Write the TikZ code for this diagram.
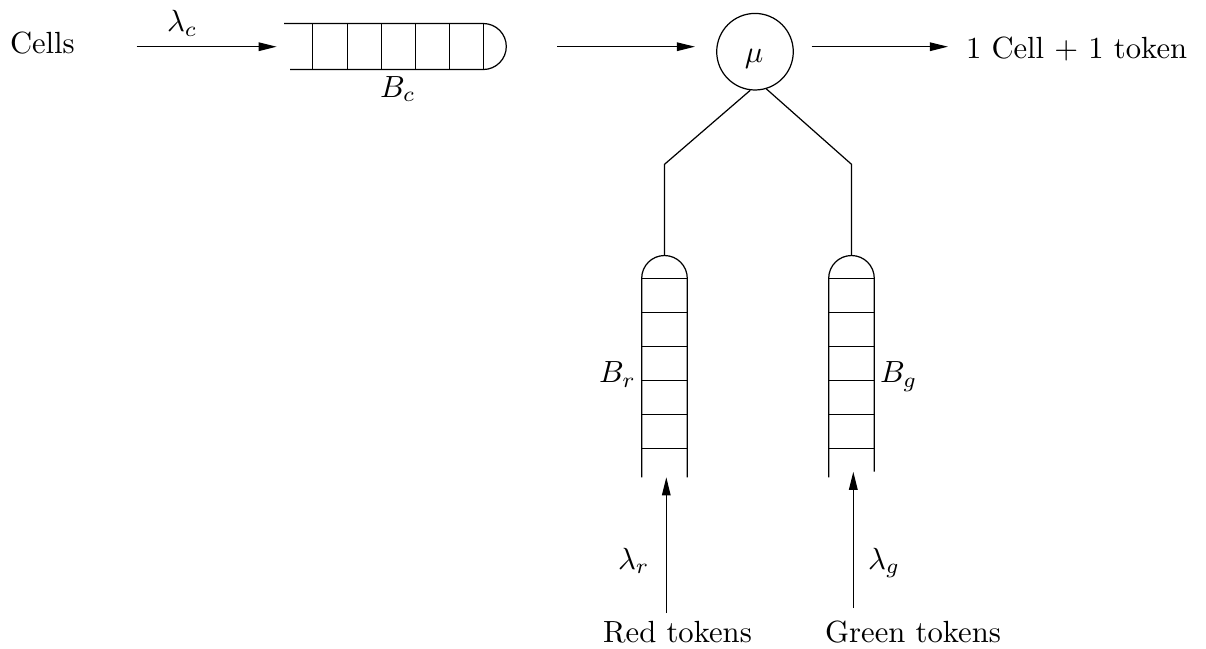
\documentclass[tikz,border=0pt]{standalone}
\usetikzlibrary{arrows.meta}
\begin{document}
\begin{tikzpicture}[x=0.3265pt,y=-0.3265pt,line width=0.4pt,
  flow/.style={-{Triangle[length=5.9pt,width=2.8pt]}},
  lbl/.style={inner sep=0pt,outer sep=0pt},
  server/.style={circle,draw,minimum size=25pt,inner sep=0pt}]
\useasboundingbox (0,0) rectangle (1206,648);

% cell buffer B_c (horizontal, open on the left)
\draw (284,23.5) -- (483.3,23.5) arc[start angle=90,end angle=-90,radius=7.51pt] -- (290,69.5);
\foreach \x in {312.7,347.3,381.3,415.3,449.3,483.3}
  \draw (\x,23.5) -- (\x,69.5);

% red token buffer B_r (vertical, open at the bottom)
\draw (641.7,477.3) -- (641.7,278.3) arc[start angle=180,end angle=0,radius=7.44pt] -- (687.3,477.3);
\foreach \y in {278.3,312.3,346.3,380.3,414.3,448.3}
  \draw (641.7,\y) -- (687.3,\y);

% green token buffer B_g
\draw (828.7,477.3) -- (828.7,278.3) arc[start angle=180,end angle=0,radius=7.44pt] -- (874.3,471.7);
\foreach \y in {278.3,312.3,346.3,380.3,414.3,448.3}
  \draw (828.7,\y) -- (874.3,\y);

% server
\node[server] (mu) at (755,51.7) {};
\node[lbl,anchor=base] (mulbl) at (754,62) {$\mu$};

% arrow end points
\coordinate (cin0) at (136.7,46.7);
\coordinate (cin1) at (276.7,46.7);
\coordinate (qout0) at (557,46.7);
\coordinate (qout1) at (695,46.7);
\coordinate (sout0) at (811.7,46.7);
\coordinate (sout1) at (948,46.7);
\coordinate (rin0) at (666.3,613);
\coordinate (rin1) at (666.3,477.3);
\coordinate (gin0) at (853.3,608);
\coordinate (gin1) at (853.3,471.7);

% links from the token buffers to the server
\coordinate (bendL) at (664.5,164.3);
\coordinate (bendR) at (851.5,164.3);
\coordinate (capL) at (664.5,255.4);
\coordinate (capR) at (851.5,255.4);
\draw (mu.-97) -- (bendL) -- (capL);
\draw (mu.-73) -- (bendR) -- (capR);

% flows
\draw[flow] (cin0) -- (cin1);
\draw[flow] (qout0) -- (qout1);
\draw[flow] (sout0) -- (sout1);
\draw[flow] (rin0) -- (rin1);
\draw[flow] (gin0) -- (gin1);

% labels
\node[lbl,anchor=base west] (cells) at (10,53) {Cells};
\node[lbl,anchor=base west] (lc) at (167,31.7) {$\lambda_c$};
\node[lbl,anchor=base west] (bc) at (380,97) {$B_c$};
\node[lbl,anchor=base west] (out) at (966,58) {1 Cell $+$ 1 token};
\node[lbl,anchor=base east] (br) at (636,382.5) {$B_r$};
\node[lbl,anchor=base west] (bg) at (880,382.5) {$B_g$};
\node[lbl,anchor=base west] (lr) at (618,569) {$\lambda_r$};
\node[lbl,anchor=base west] (lg) at (868,569) {$\lambda_g$};
\node[lbl,anchor=base] (red) at (677.5,642) {Red tokens};
\node[lbl,anchor=base] (green) at (913,642) {Green tokens};
\end{tikzpicture}
\end{document}
